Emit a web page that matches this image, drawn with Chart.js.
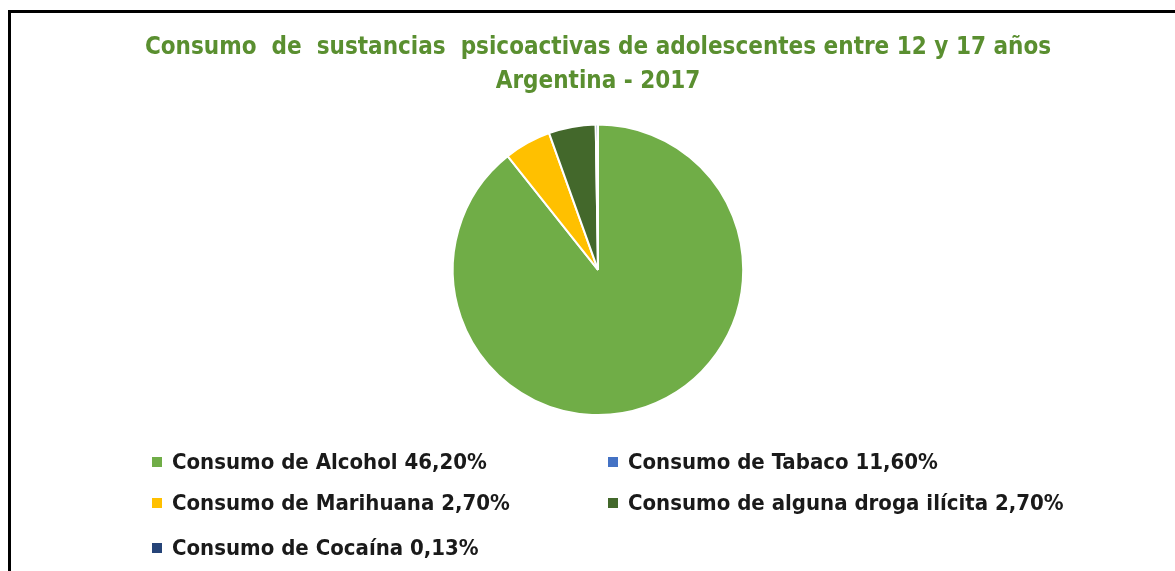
<!DOCTYPE html>
<html>
<head>
<meta charset="utf-8">
<script src="https://cdn.jsdelivr.net/npm/chart.js@4/dist/chart.umd.min.js"></script>
<style>
  html, body { margin: 0; padding: 0; background: #fff; }
  #wrap { position: relative; width: 1175px; height: 571px; overflow: hidden; }
  #frame { position: absolute; left: 8px; top: 10px; width: 1200px; height: 600px;
           border-left: 3px solid #000; border-top: 3px solid #000; }
  canvas { position: absolute; left: 0; top: 0; }
</style>
</head>
<body>
<div id="wrap">
  <div id="frame"></div>
  <canvas id="chart" width="1175" height="571"></canvas>
</div>
<script>
// etiquetas de la leyenda (tal cual aparecen en el grafico)
const categorias = [
  'Consumo de Alcohol 46,20%',
  'Consumo de Tabaco 11,60%',
  'Consumo de Marihuana 2,70%',
  'Consumo de alguna droga ilícita 2,70%',
  'Consumo de Cocaína 0,13%'
];
// valores que dibuja la torta (tabaco no aparece como porcion)
const valores = [46.2, 0, 2.7, 2.7, 0.13];
const colores = ['#70AD47', '#4472C4', '#FFC000', '#43682B', '#264478'];
const titulo = ['Consumo  de  sustancias  psicoactivas de adolescentes entre 12 y 17 años', 'Argentina - 2017'];

const FONT = '"Liberation Sans Narrow", "DejaVu Sans Condensed", Arial, sans-serif';

// leyenda en dos columnas, como en excel
const leyenda = {
  id: 'leyenda',
  afterDraw(chart) {
    const ctx = chart.ctx;
    const cols = [152, 608];
    const filas = [462, 503, 548];
    ctx.save();
    ctx.font = 'bold 22px ' + FONT;
    ctx.textBaseline = 'middle';
    chart.data.labels.forEach((lab, i) => {
      const x = cols[i % 2];
      const y = filas[Math.floor(i / 2)];
      ctx.fillStyle = chart.data.datasets[0].backgroundColor[i];
      ctx.fillRect(x, y - 5, 10, 10);
      ctx.fillStyle = '#1a1a1a';
      ctx.fillText(lab, x + 20, y + 1);
    });
    ctx.restore();
  }
};

new Chart(document.getElementById('chart'), {
  type: 'pie',
  data: {
    labels: categorias,
    datasets: [{
      data: valores,
      backgroundColor: colores,
      borderColor: '#fff',
      borderWidth: 2
    }]
  },
  options: {
    responsive: false,
    animation: false,
    layout: { padding: { top: 30, bottom: 155, left: 21, right: 0 } },
    plugins: {
      legend: { display: false },
      tooltip: { enabled: false },
      title: {
        display: true,
        text: titulo,
        color: '#5A8F30',
        font: { family: FONT, size: 24, weight: 'bold', lineHeight: 1.45 },
        padding: { top: 0, bottom: 24 }
      }
    }
  },
  plugins: [leyenda]
});
</script>
</body>
</html>
